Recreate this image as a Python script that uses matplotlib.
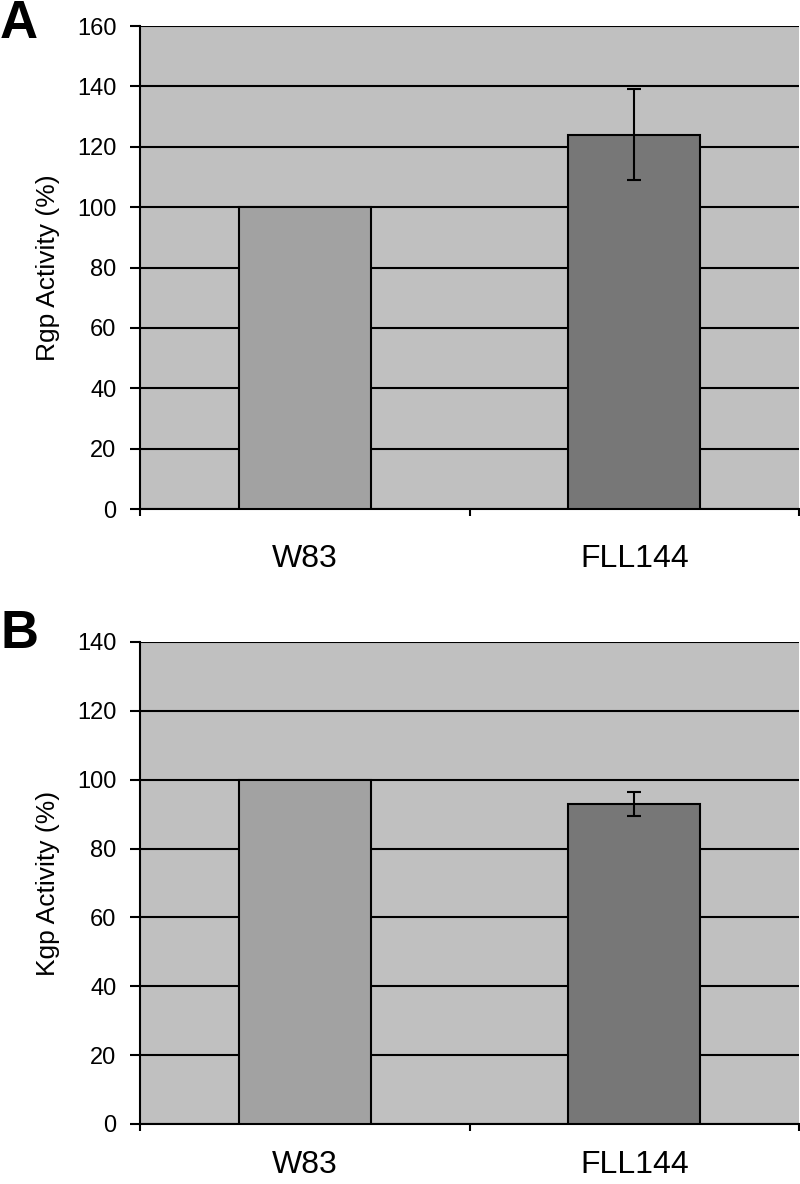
import matplotlib
matplotlib.use("Agg")
import matplotlib.pyplot as plt
import numpy as np

strains = ["W83", "FLL144"]
rgp_vals = [100, 124]
rgp_err = [0, 15]
kgp_vals = [100, 93]
kgp_err = [0, 3.5]
bar_colors = ["#a2a2a2", "#777777"]

plt.rcParams["font.family"] = ["Liberation Sans", "DejaVu Sans"]

fig = plt.figure(figsize=(8, 11.84), dpi=100)
panels = [
    ("A", [0.175, 0.5701, 0.824, 0.4079], rgp_vals, rgp_err, 160, "Rgp Activity (%)", 24, 25),
    ("B", [0.175, 0.0507, 0.824, 0.4071], kgp_vals, kgp_err, 140, "Kgp Activity (%)", 634, 19),
]

for letra, rect, vals, errs, ymax, ylab, ypix, xpad in panels:
    ax = fig.add_axes(rect)
    ax.set_facecolor("#c0c0c0")
    x = np.arange(len(strains))
    ax.bar(x, vals, width=0.4, color=bar_colors, edgecolor="black", linewidth=1.5, zorder=3)
    e = np.array(errs, dtype=float)
    m = e > 0
    ax.errorbar(x[m], np.array(vals)[m], yerr=e[m], fmt="none", ecolor="black",
                elinewidth=1.5, capsize=5, capthick=1.5, zorder=4)
    ax.set_xlim(-0.5, 1.5)
    ax.set_ylim(0, ymax)
    ax.set_yticks(np.arange(0, ymax + 1, 20))
    ax.yaxis.grid(True, color="black", linewidth=1.5, zorder=1)
    ax.set_axisbelow(True)
    ax.set_xticks(x)
    ax.set_xticklabels(strains, fontsize=23)
    ax.set_xticks([-0.5, 0.5, 1.5], minor=True)
    ax.tick_params(axis="x", which="major", length=0, pad=xpad)
    ax.tick_params(axis="x", which="minor", length=5, width=1.5, direction="out")
    ax.tick_params(axis="y", length=7, width=1.5, direction="out", labelsize=17, pad=10)
    for s in ("top", "right"):
        ax.spines[s].set_visible(False)
    for s in ("left", "bottom"):
        ax.spines[s].set_linewidth(1.5)
    ax.set_ylabel(ylab, fontsize=19, labelpad=12)
    fig.text(0.0, 1 - ypix / 1184, letra, fontsize=38, fontweight="bold",
             va="center", ha="left")

fig.savefig("out.png", dpi=100)
